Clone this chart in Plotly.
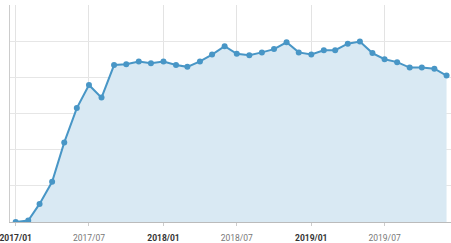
import plotly.graph_objects as go
import pandas as pd

months = pd.date_range("2017-01-01", "2019-12-01", freq="MS")
values = [0.0, 0.04, 0.5, 1.11, 2.2, 3.15, 3.79, 3.44, 4.34, 4.36, 4.44, 4.39,
          4.44, 4.34, 4.29, 4.44, 4.63, 4.86, 4.65, 4.61, 4.69, 4.78, 4.97, 4.69,
          4.63, 4.75, 4.75, 4.93, 4.99, 4.67, 4.50, 4.42, 4.27, 4.27, 4.24, 4.05]
tick_vals = ["2017-01-01", "2017-07-01", "2018-01-01", "2018-07-01", "2019-01-01", "2019-07-01"]
tick_text = ["<b>2017/01</b>", "2017/07", "<b>2018/01</b>", "2018/07", "<b>2019/01</b>", "2019/07"]
tick_text = [t if t.startswith("<b>") else '<span style="color:#777">%s</span>' % t for t in tick_text]

fig = go.Figure()
fig.add_trace(go.Scatter(
    x=months, y=values, mode="lines+markers",
    line=dict(color="#4896c6", width=2),
    marker=dict(color="#4896c6", size=6),
    fill="tozeroy", fillcolor="#d9e9f3",
))
fig.update_layout(
    width=451, height=243,
    margin=dict(l=10, r=0, t=5, b=21),
    paper_bgcolor="white", plot_bgcolor="white",
    showlegend=False,
    xaxis=dict(range=["2016-12-18", "2019-12-12"], tickvals=tick_vals, ticktext=tick_text,
               showgrid=True, gridcolor="#e3e3e3", gridwidth=1,
               ticks="outside", ticklen=3, tickcolor="#cccccc",
               ticklabeloverflow="allow", ticklabelstandoff=5,
               tickfont=dict(family="Roboto, Arial, sans-serif", size=8.5, color="#333333"),
               showline=True, linecolor="#bbbbbb", linewidth=1, zeroline=False),
    yaxis=dict(range=[0, 6], dtick=1, showticklabels=False, showgrid=True,
               gridcolor="#e6e6e6", gridwidth=1, zeroline=False,
               showline=True, linecolor="#cccccc", linewidth=1),
)
fig.write_html("out.html")
